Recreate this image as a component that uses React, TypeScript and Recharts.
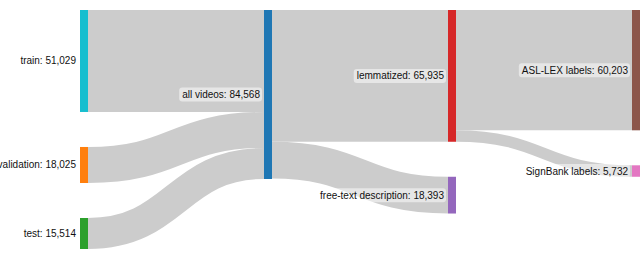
import { Sankey } from 'recharts'

const nodeNames = [
  'train',
  'validation',
  'test',
  'all videos',
  'lemmatized',
  'free-text description',
  'ASL-LEX labels',
  'SignBank labels',
]

const nodeColors = ['#17becf', '#ff7f0e', '#2ca02c', '#1f77b4', '#d62728', '#9467bd', '#8c564b', '#e377c2']

// [source, target, value]
const flows: [number, number, number][] = [
  [0, 3, 51029],
  [1, 3, 18025],
  [2, 3, 15514],
  [3, 4, 65935],
  [3, 5, 18393],
  [4, 6, 60203],
  [4, 7, 5732],
]

const data = {
  nodes: nodeNames.map(name => ({ name })),
  links: flows.map(([source, target, value]) => ({ source, target, value })),
}

const FONT = '10px "Liberation Sans", Arial, sans-serif'

let ctx: CanvasRenderingContext2D | null = null
function textWidth(s: string) {
  if (!ctx) ctx = document.createElement('canvas').getContext('2d')
  if (!ctx) return s.length * 5.5
  ctx.font = FONT
  return ctx.measureText(s).width
}

function SankeyNode(props: any) {
  const { x, y, width, height, index, payload } = props
  const label = `${payload.name}: ${Number(payload.value).toLocaleString('en-US')}`
  const w = textWidth(label)
  const tx = x - 4
  const cy = y + height / 2
  return (
    <g>
      <rect x={x} y={y} width={width} height={height} fill={nodeColors[index]} />
      {payload.depth > 0 && (
        <rect x={tx - w - 3} y={cy - 7} width={w + 5} height={14} rx={3} fill="rgba(255,255,255,0.5)" />
      )}
      <text x={tx} y={cy} textAnchor="end" dominantBaseline="central"
        style={{ font: FONT, fill: '#111' }}>
        {label}
      </text>
    </g>
  )
}

function SankeyLink(props: any) {
  const { sourceX, sourceY, sourceControlX, targetX, targetY, targetControlX, linkWidth } = props
  return (
    <path
      d={`M${sourceX},${sourceY} C${sourceControlX},${sourceY} ${targetControlX},${targetY} ${targetX},${targetY}`}
      fill="none"
      stroke="#cccccc"
      strokeWidth={linkWidth}
    />
  )
}

export default function App() {
  return (
    <div style={{ position: 'absolute', left: 0, top: 0, width: 640, height: 260, background: '#fff' }}>
      <Sankey
        width={640}
        height={260}
        data={data}
        nodeWidth={8}
        nodePadding={35}
        linkCurvature={0.5}
        iterations={32}
        {...({ align: 'left', verticalAlign: 'top' } as any)}
        margin={{ left: 80, right: 0, top: 10, bottom: 11 }}
        node={<SankeyNode />}
        link={<SankeyLink />}
      >
      </Sankey>
    </div>
  )
}
